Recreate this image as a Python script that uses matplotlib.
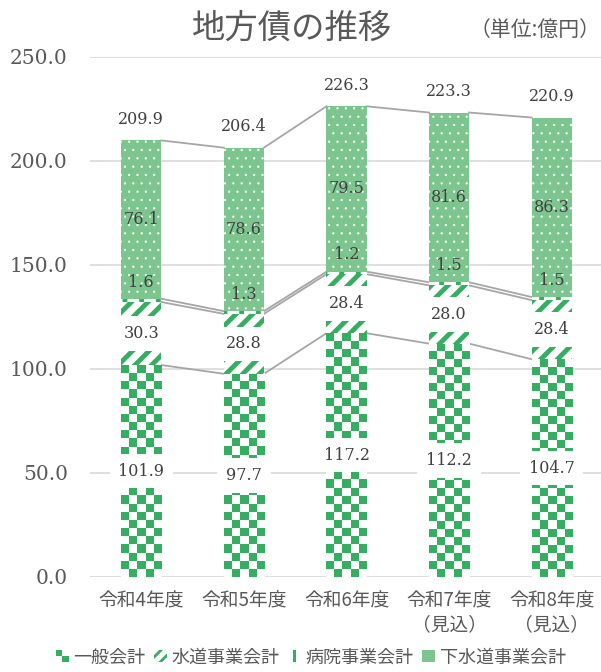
import numpy as np
import matplotlib
matplotlib.use('Agg')
import matplotlib.pyplot as plt
from matplotlib.colors import ListedColormap
from matplotlib.patches import Patch, Rectangle
from matplotlib.legend_handler import HandlerBase

plt.rcParams['font.family'] = ['Noto Sans CJK JP', 'DejaVu Sans']

# データ（億円）
years = ['令和4年度', '令和5年度', '令和6年度', '令和7年度\n（見込）', '令和8年度\n（見込）']
ippan = [101.9, 97.7, 117.2, 112.2, 104.7]
suido = [30.3, 28.8, 28.4, 28.0, 28.4]
byoin = [1.6, 1.3, 1.2, 1.5, 1.5]
gesui = [76.1, 78.6, 79.5, 81.6, 86.3]
series_names = ['一般会計', '水道事業会計', '病院事業会計', '下水道事業会計']

green = '#36ae62'
light = '#7dc58e'
grey = '#595959'
w = 0.39

fig = plt.figure(figsize=(6.01, 6.72), dpi=100)
ax = fig.add_axes([90 / 601, 95 / 672, 513 / 601, 520 / 672])

x = np.arange(len(years))
ippan = np.array(ippan)
suido = np.array(suido)
byoin = np.array(byoin)
gesui = np.array(gesui)
b1 = ippan
b2 = b1 + suido
b3 = b2 + byoin
total = b3 + gesui

# 一般会計: 市松模様
cmap = ListedColormap(['white', green])
px_per_unit = 520 / 250
for xi, v in zip(x, ippan):
    ny = max(1, int(round(v * px_per_unit / 8)))
    img = (np.add.outer(np.arange(ny), np.arange(5)) % 2)
    ax.imshow(img, cmap=cmap, extent=[xi - w / 2, xi + w / 2, 0, v],
              aspect='auto', interpolation='nearest', origin='lower', zorder=2)

plt.rcParams['hatch.linewidth'] = 3.5
ax.bar(x, suido, w, bottom=b1, facecolor='white', edgecolor=green, hatch='//', lw=0, zorder=2)
ax.bar(x, byoin, w, bottom=b2, facecolor='white', edgecolor=green, hatch='|', lw=0, zorder=2)
plt.rcParams['hatch.linewidth'] = 0.4
ax.bar(x, gesui, w, bottom=b3, facecolor=light, edgecolor='white', hatch='..', lw=0, zorder=2)

# 系列線
for tops in [b1, b2, b3, total]:
    for j in range(len(x) - 1):
        ax.plot([x[j] + w / 2, x[j + 1] - w / 2], [tops[j], tops[j + 1]],
                color='#a6a6a6', lw=1.3, zorder=1.5)

# データラベル
lab = dict(family='DejaVu Serif', fontsize=11.5, color='#404040', ha='center', va='center')
box = dict(boxstyle='square,pad=0.55', fc='white', ec='none')
for xi, a, b, c, d, t, s1, s2, s3 in zip(x, ippan, suido, byoin, gesui, total, b1, b2, b3):
    ax.text(xi, a / 2, f'{a:.1f}', bbox=box, zorder=4, **lab)
    ax.text(xi, s1 + b / 2, f'{b:.1f}', bbox=box, zorder=4, **lab)
    ax.annotate(f'{c:.1f}', (xi, s3), xytext=(0, 12), textcoords='offset points', zorder=4, **lab)
    ax.text(xi, s3 + d / 2, f'{d:.1f}', zorder=4, **lab)
    ax.annotate(f'{t:.1f}', (xi, t), xytext=(0, 15), textcoords='offset points', zorder=4, **lab)

ax.set_ylim(0, 250)
ax.set_xlim(-0.5, len(x) - 0.5)
ax.set_yticks(np.arange(0, 251, 50))
ax.set_yticklabels([f'{v:.1f}' for v in np.arange(0, 251, 50)],
                   family='DejaVu Serif', fontsize=14.5, color=grey)
ax.set_xticks(x)
ax.set_xticklabels(years, fontsize=13.5, color=grey, linespacing=1.15)
ax.tick_params(axis='both', length=0)
ax.tick_params(axis='y', pad=16)
ax.tick_params(axis='x', pad=10)
ax.grid(axis='y', color='#d9d9d9', lw=1.2, zorder=0)
ax.set_axisbelow(True)
for sp in ax.spines.values():
    sp.set_visible(False)

fig.text(0.486, 0.958, '地方債の推移', ha='center', va='center', fontsize=24, color=grey)
fig.text(0.999, 0.955, '（単位:億円）', ha='right', va='center', fontsize=15, color=grey)


class IconHandler(HandlerBase):
    def __init__(self, kind):
        super().__init__()
        self.kind = kind

    def create_artists(self, legend, orig_handle, xdescent, ydescent, width, height, fontsize, trans):
        s = height
        x0 = -xdescent + (width - s) / 2
        y0 = -ydescent
        if self.kind == 'checker':
            h = s / 2
            return [Rectangle((x0, y0 + h), h, h, fc=green, ec='none', transform=trans),
                    Rectangle((x0 + h, y0), h, h, fc=green, ec='none', transform=trans)]
        if self.kind == 'stripe':
            return [Rectangle((x0, y0), s, s, fc='white', ec=green, hatch='///',
                              lw=0, transform=trans)]
        return [Rectangle((x0 + s * 0.4, y0), s * 0.22, s, fc=green, ec='none', transform=trans)]


plt.rcParams['hatch.linewidth'] = 2.0
handles = [
    Patch(fc=green),
    Patch(fc='white', ec=green),
    Patch(fc=green, ec='none'),
    Patch(fc=light, ec='none'),
]
leg = fig.legend(handles, series_names, loc='center', bbox_to_anchor=(0.517, 0.022),
                 ncol=4, frameon=False, fontsize=13, handlelength=0.7, handleheight=0.7,
                 handletextpad=0.25, columnspacing=0.5,
                 handler_map={handles[0]: IconHandler('checker'),
                              handles[1]: IconHandler('stripe'),
                              handles[2]: IconHandler('line')})
for t in leg.get_texts():
    t.set_color(grey)

fig.savefig('out.png', dpi=100)
